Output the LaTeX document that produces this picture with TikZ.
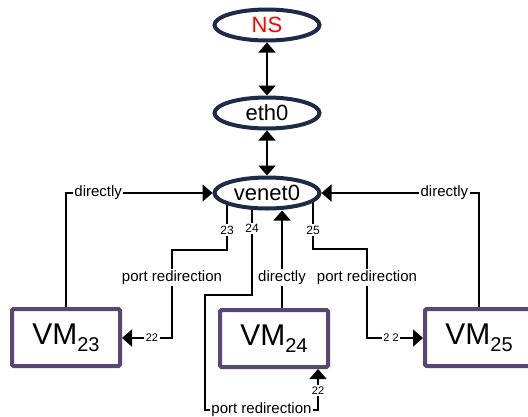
\documentclass[tikz,border=0pt]{standalone}
\usepackage{fontspec}
\setmainfont{Liberation Sans}
\usepackage{tikz}
\usetikzlibrary{shapes.geometric, arrows.meta, backgrounds}
\usepackage{xcolor}
\definecolor{ifnavy}{RGB}{30, 43, 72}
\definecolor{vmpurple}{RGB}{88, 71, 116}

\newcommand{\vmsub}[1]{\raisebox{-7pt}{\fontsize{20}{20}\selectfont #1}}

\begin{document}
\begin{tikzpicture}[
    x=1pt, y=-1pt,
    netif/.style={ellipse, draw=ifnavy, fill=white, line width=4pt, minimum width=105pt, minimum height=31pt, inner sep=0pt, font=\fontsize{22}{24}\selectfont},
    vmbox/.style={rectangle, draw=vmpurple, fill=white, line width=4pt, minimum width=108pt, minimum height=57pt, rounded corners=1.5pt, inner sep=0pt, font=\fontsize{30}{32}\selectfont},
    link/.style={draw=black, line width=1.8pt},
    tip/.style={-{Triangle[length=10pt, width=17pt]}},
    bothtips/.style={{Triangle[length=10pt, width=17pt]}-{Triangle[length=10pt, width=17pt]}},
    lbl/.style={fill=white, inner sep=1.5pt, font=\fontsize{15}{16}\selectfont},
    portlbl/.style={fill=white, inner sep=1.5pt, font=\fontsize{12}{13}\selectfont}
]
    \useasboundingbox (0,0) rectangle (528,416);

    % interfaces
    \node[netif] (ns) at (267,25) {\textcolor{red}{NS}};
    \node[netif] (eth) at (267,113) {eth0};
    \node[netif] (venet) at (267,193) {venet0};

    % VM boxes
    \node[vmbox] (vm23) at (66,337.5) {VM\vmsub{23}};
    \node[vmbox] (vm24) at (274,338.5) {VM\vmsub{24}};
    \node[vmbox] (vm25) at (479,337.5) {VM\vmsub{25}};

    % corner points
    \coordinate (c23a) at (227,250);
    \coordinate (c23b) at (172,250);
    \coordinate (c23c) at (172,338);
    \coordinate (c24a) at (252,295);
    \coordinate (c24b) at (205,295);
    \coordinate (c24c) at (205,410);
    \coordinate (c24d) at (318,410);
    \coordinate (c25a) at (313,249);
    \coordinate (c25b) at (367,249);
    \coordinate (c25c) at (367,338);
    \coordinate (d24) at (282,300);

    % uplinks
    \draw[link, bothtips] (ns) -- (eth);
    \draw[link, bothtips] (eth) -- (venet);

    % direct routes
    \draw[link, tip] (vm23) |- node[lbl, pos=0.61] {directly} (venet);
    \draw[link, tip] (vm25) |- node[lbl, pos=0.61] {directly} (venet);
    \draw[link, tip] (vm24.north -| d24) -- node[lbl, pos=0.31] {directly} (d24 |- venet.south);

    % port redirections
    \begin{scope}[on background layer]
        \draw[link, tip] (venet -| c23a) -- node[portlbl, pos=0.65] {23} (c23a) -- (c23b)
            -- node[lbl, pos=0.31] {port redirection} (c23c)
            -- node[portlbl, pos=0.40, font=\fontsize{11}{12}\selectfont] {22} (c23c -| vm23.east);
        \draw[link, tip] (venet -| c24a) -- node[portlbl, pos=0.35] {24} (c24a) -- (c24b) -- (c24c)
            -- node[lbl, pos=0.5] {port redirection} (c24d)
            -- node[portlbl, pos=0.47, font=\fontsize{11}{12}\selectfont] {22} (c24d |- vm24.south);
        \draw[link, tip] (venet -| c25a) -- node[portlbl, pos=0.66] {25} (c25a) -- (c25b)
            -- node[lbl, pos=0.32] {port redirection} (c25c)
            -- node[portlbl, pos=0.43, font=\fontsize{11}{12}\selectfont] {2 2} (c25c -| vm25.west);
    \end{scope}

\end{tikzpicture}
\end{document}
